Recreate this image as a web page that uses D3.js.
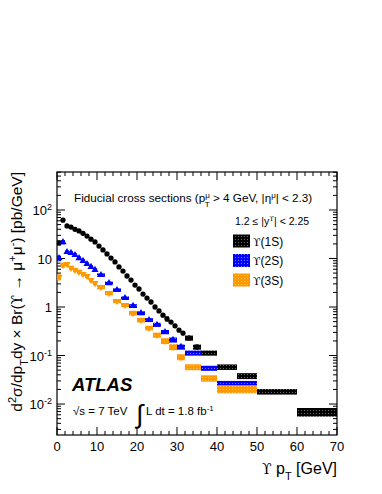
<!DOCTYPE html>
<html>
<head>
<meta charset="utf-8">
<script src="https://cdn.jsdelivr.net/npm/d3@7/dist/d3.min.js"></script>
<style>
  body { margin: 0; background: #fff; }
  text { font-family: "Liberation Sans", Arial, sans-serif; fill: #000; }
  .ups { font-family: "DejaVu Serif", "Liberation Serif", serif; }
</style>
</head>
<body>
<svg id="chart"></svg>
<script>
// bin edges and values (pb/GeV)
const edges1S = [0,1,2,3,4,5,6,7,8,9,10,11,12,13,14,15,16,17,18,19,20,21,22,23,24,25,26,27,28,29,30,31,32,34,36,40,45,50,60,70];
const val1S = [21, 62, 47, 44.5, 40, 37, 33, 29, 25, 22, 18, 15, 12.4, 10.2, 8.5, 6.7, 5.5, 4.36, 3.6, 2.84,
  2.35, 1.85, 1.53, 1.27, 1.0, 0.83, 0.68, 0.57, 0.49, 0.41, 0.335, 0.29,
  0.23, 0.15, 0.113, 0.058, 0.038, 0.018, 0.0069];
const err1S = [0.12, 0.1, 0.07, 0.07, 0.07, 0.07, 0.07, 0.07, 0.07, 0.07, 0.07, 0.07, 0.07, 0.07, 0.07, 0.07, 0.07, 0.07, 0.07, 0.07,
  0.08, 0.08, 0.08, 0.08, 0.08, 0.08, 0.09, 0.12, 0.09, 0.09, 0.1, 0.1,
  0.12, 0.12, 0.12, 0.13, 0.14, 0.13, 0.2];

const edgesExc = [0,1,2,3,4,5,6,7,8,9,10,12,14,16,18,20,22,24,26,28,30,32,36,40,50];
const val2S = [10.2, 21.8, 13.6, 13, 11.8, 10.2, 8.9, 7.7, 6.7, 5.8,
  4.56, 3.1, 2.24, 1.53, 1.05, 0.75, 0.54, 0.43, 0.305, 0.21, 0.15,
  0.113, 0.055, 0.027];
const err2S = [0.12, 0.1, 0.08, 0.08, 0.08, 0.08, 0.08, 0.08, 0.08, 0.08,
  0.08, 0.08, 0.08, 0.08, 0.09, 0.09, 0.09, 0.1, 0.1, 0.12, 0.12,
  0.12, 0.12, 0.11];
const val3S = [4.15, 7.35, 7.7, 6.4, 5.8, 5.3, 4.8, 4.36, 3.6, 3.1,
  2.58, 1.94, 1.33, 1.1, 0.75, 0.54, 0.37, 0.265, 0.2, 0.15, 0.093,
  0.058, 0.034, 0.0203];
const err3S = [0.14, 0.12, 0.1, 0.1, 0.1, 0.1, 0.1, 0.1, 0.1, 0.1,
  0.1, 0.1, 0.1, 0.1, 0.11, 0.11, 0.11, 0.12, 0.14, 0.14, 0.14,
  0.14, 0.15, 0.18];

const stateNames = ['(1S)', '(2S)', '(3S)'];
const stateColours = ['#000000', '#0000ff', '#ff9900'];
const dotColours = ['#6a6a6a', '#7a7aff', '#ffc46a'];
const xTicks = [0, 10, 20, 30, 40, 50, 60, 70];
const yTicks = [1e-2, 1e-1, 1, 10, 100];
const yTickLabels = [['10', '-2'], ['10', '-1'], ['1', ''], ['10', ''], ['10', '2']];

const W = 382, H = 494;
const margin = { top: 172, right: 45, bottom: 59, left: 57 };
const width = W - margin.left - margin.right;
const height = H - margin.top - margin.bottom;

const svg = d3.select('#chart').attr('width', W).attr('height', H);
const g = svg.append('g').attr('transform', `translate(${margin.left},${margin.top})`);

const x = d3.scaleLinear().domain([0, 70]).range([0, width]);
const y = d3.scaleLog().domain([0.0023, 607]).range([height, 0]);

// dotted fill patterns, like ROOT's fill styles
const defs = svg.append('defs');
stateColours.forEach((c, i) => {
  const p = defs.append('pattern').attr('id', 'pat' + i)
    .attr('patternUnits', 'userSpaceOnUse').attr('width', 3).attr('height', 3);
  p.append('rect').attr('width', 3).attr('height', 3).attr('fill', c);
  p.append('rect').attr('x', 1).attr('y', 1).attr('width', 1).attr('height', 1).attr('fill', dotColours[i]);
});
defs.append('clipPath').attr('id', 'clip').append('rect').attr('width', width).attr('height', height);

// frame + ticks on all sides
const minorX = d3.range(0, 71, 2);
const tickLen = 8, minorLen = 4;
const axisG = g.append('g');
minorX.forEach(v => {
  const len = v % 10 === 0 ? tickLen : minorLen;
  axisG.append('line').attr('x1', x(v)).attr('x2', x(v)).attr('y1', height).attr('y2', height - len).attr('stroke', '#000');
  axisG.append('line').attr('x1', x(v)).attr('x2', x(v)).attr('y1', 0).attr('y2', len).attr('stroke', '#000');
});
const minorY = [];
for (let e = -3; e <= 2; e++) for (let m = 1; m <= 9; m++) {
  const v = m * Math.pow(10, e);
  if (v >= y.domain()[0] && v <= y.domain()[1]) minorY.push({ v, major: m === 1 });
}
minorY.forEach(t => {
  const len = t.major ? tickLen : minorLen;
  axisG.append('line').attr('x1', 0).attr('x2', len).attr('y1', y(t.v)).attr('y2', y(t.v)).attr('stroke', '#000');
  axisG.append('line').attr('x1', width).attr('x2', width - len).attr('y1', y(t.v)).attr('y2', y(t.v)).attr('stroke', '#000');
});
g.append('rect').attr('width', width).attr('height', height).attr('fill', 'none').attr('stroke', '#000').attr('stroke-width', 1.2);

// tick labels
g.selectAll('.xl').data(xTicks).enter().append('text')
  .attr('x', d => x(d)).attr('y', height + 16).attr('text-anchor', 'middle')
  .style('font-size', '13px').text(d => d);
yTicks.forEach((v, i) => {
  const t = g.append('text').attr('x', -5).attr('y', y(v) + 5).attr('text-anchor', 'end').style('font-size', '13px');
  t.append('tspan').text(yTickLabels[i][0]);
  if (yTickLabels[i][1]) t.append('tspan').attr('baseline-shift', 'super').style('font-size', '9px').text(yTickLabels[i][1]);
});

// data: boxes (bin width x uncertainty) and markers
const series = [
  { edges: edges1S, vals: val1S, errs: err1S },
  { edges: edgesExc, vals: val2S, errs: err2S },
  { edges: edgesExc, vals: val3S, errs: err3S }
];
const plot = g.append('g').attr('clip-path', 'url(#clip)');
const markers = [
  d3.symbol().type(d3.symbolCircle).size(22),
  d3.symbol().type(d3.symbolTriangle).size(22),
  d3.symbol().type(d3.symbolTriangle).size(22)
];
series.forEach((s, i) => {
  const pts = s.vals.map((v, k) => ({ lo: s.edges[k], hi: s.edges[k + 1], v, e: s.errs[k] }));
  const sg = plot.append('g');
  sg.selectAll('rect').data(pts).enter().append('rect')
    .attr('x', d => x(d.lo)).attr('width', d => x(d.hi) - x(d.lo))
    .attr('y', d => y(d.v * (1 + d.e))).attr('height', d => y(d.v * (1 - d.e)) - y(d.v * (1 + d.e)))
    .attr('fill', `url(#pat${i})`);
  sg.selectAll('path').data(pts.filter(d => d.hi - d.lo <= 2)).enter().append('path')
    .attr('d', markers[i])
    .attr('transform', d => `translate(${x((d.lo + d.hi) / 2)},${y(d.v)})` + (i === 2 ? ' rotate(180)' : ''))
    .attr('fill', stateColours[i]);
});

// labels
const fid = g.append('text').attr('x', 17).attr('y', 30).style('font-size', '11.7px');
fid.append('tspan').text('Fiducial cross sections (p');
fid.append('tspan').attr('baseline-shift', 'super').style('font-size', '8px').text('μ');
fid.append('tspan').attr('dx', -5).attr('baseline-shift', 'sub').style('font-size', '8px').text('T');
fid.append('tspan').text(' > 4 GeV, |η');
fid.append('tspan').attr('baseline-shift', 'super').style('font-size', '8px').text('μ');
fid.append('tspan').text('| < 2.3)');

const rap = g.append('text').attr('x', 178).attr('y', 53).style('font-size', '10.5px');
rap.append('tspan').text('1.2 ≤ |y');
rap.append('tspan').attr('class', 'ups').attr('baseline-shift', 'super').style('font-size', '7px').text('ϒ');
rap.append('tspan').text('| < 2.25');

stateNames.forEach((n, i) => {
  const ly = 69 + i * 19.5;
  g.append('rect').attr('x', 176).attr('y', ly - 6.5).attr('width', 17).attr('height', 13).attr('fill', `url(#pat${i})`);
  const t = g.append('text').attr('x', 196).attr('y', ly + 4.5).style('font-size', '12px');
  t.append('tspan').attr('class', 'ups').style('font-size', '11px').text('ϒ');
  t.append('tspan').text(n);
});

g.append('text').attr('x', 15).attr('y', 219).style('font-size', '18.5px')
  .style('font-weight', 'bold').style('font-style', 'italic').text('ATLAS');
g.append('text').attr('x', 16).attr('y', 243).style('font-size', '11.5px').text('√s = 7 TeV');
g.append('text').attr('x', 79).attr('y', 251).style('font-size', '26px').style('font-weight', '200').text('∫');
const lumi = g.append('text').attr('x', 89).attr('y', 243).style('font-size', '11.5px');
lumi.append('tspan').text('L dt = 1.8 fb');
lumi.append('tspan').attr('baseline-shift', 'super').style('font-size', '8px').text('-1');

// axis titles
const xt = svg.append('text').attr('x', margin.left + width).attr('y', 474).attr('text-anchor', 'end').style('font-size', '16px');
xt.append('tspan').attr('class', 'ups').style('font-size', '14px').text('ϒ');
xt.append('tspan').text(' p');
xt.append('tspan').attr('baseline-shift', 'sub').style('font-size', '11px').text('T');
xt.append('tspan').text(' [GeV]');

const yt = svg.append('text').attr('transform', `translate(22,${margin.top}) rotate(-90)`)
  .attr('text-anchor', 'end').style('font-size', '15.5px');
yt.append('tspan').text('d');
yt.append('tspan').attr('baseline-shift', 'super').style('font-size', '11px').text('2');
yt.append('tspan').text('σ/dp');
yt.append('tspan').attr('baseline-shift', 'sub').style('font-size', '11px').text('T');
yt.append('tspan').text('dy × Br(');
yt.append('tspan').attr('class', 'ups').style('font-size', '14px').text('ϒ');
yt.append('tspan').text(' → μ');
yt.append('tspan').attr('baseline-shift', 'super').style('font-size', '11px').text('+');
yt.append('tspan').text('μ');
yt.append('tspan').attr('baseline-shift', 'super').style('font-size', '11px').text('-');
yt.append('tspan').text(') [pb/GeV]');
</script>
</body>
</html>
